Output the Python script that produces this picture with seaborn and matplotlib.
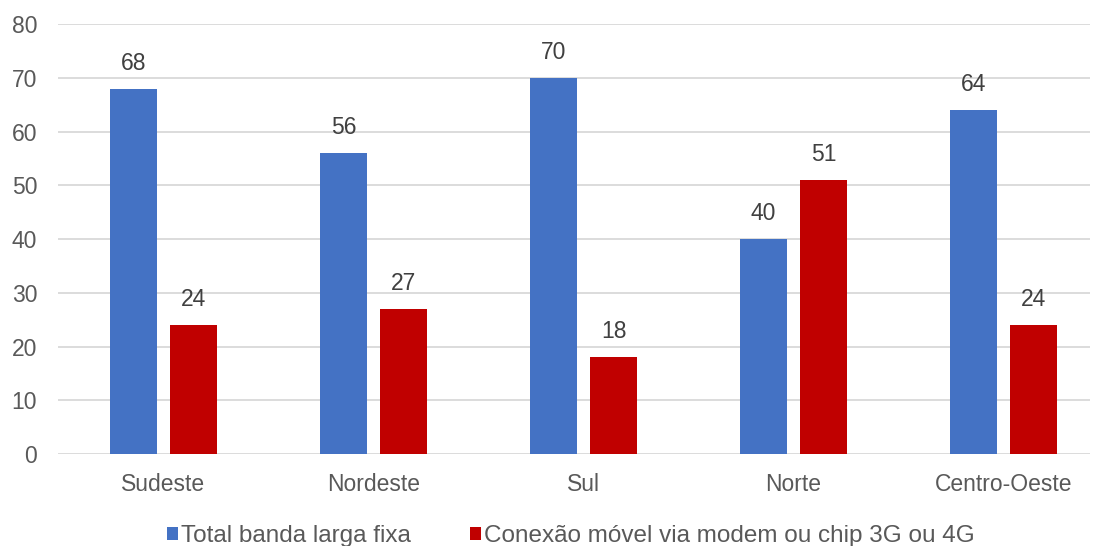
import matplotlib
matplotlib.use("Agg")
import matplotlib.pyplot as plt
import seaborn as sns
import pandas as pd

regioes = ["Sudeste", "Nordeste", "Sul", "Norte", "Centro-Oeste"]
banda_larga_fixa = [68, 56, 70, 40, 64]
movel_3g_4g = [24, 27, 18, 51, 24]
series = ["Total banda larga fixa", "Conexão móvel via modem ou chip 3G ou 4G"]
yticks = [0, 10, 20, 30, 40, 50, 60, 70, 80]

df = pd.DataFrame({
    "regiao": regioes * 2,
    "valor": banda_larga_fixa + movel_3g_4g,
    "serie": [series[0]] * len(regioes) + [series[1]] * len(regioes),
})

sns.set_theme(style="white")
plt.rcParams["font.family"] = ["Liberation Sans", "DejaVu Sans"]
text_color = "#595959"
label_color = "#404040"

fig = plt.figure(figsize=(10.98, 5.46), dpi=100)
ax = fig.add_axes([0.0528, 0.1685, 0.94, 0.7875])

sns.barplot(data=df, x="regiao", y="valor", hue="serie", order=regioes,
            hue_order=series, palette=["#4472C4", "#C00000"],
            width=0.572, gap=0.217, saturation=1, linewidth=0,
            ax=ax, legend=True)

for cont in ax.containers:
    ax.bar_label(cont, fmt="%d", padding=10, fontsize=16.5, color=label_color)

ax.set_ylim(0, 80)
ax.set_xlim(-0.502, 4.412)
ax.set_yticks(yticks)
ax.yaxis.grid(True, color="#d9d9d9", linewidth=1.3)
ax.set_axisbelow(True)
for s in ax.spines.values():
    s.set_visible(False)
ax.tick_params(axis="both", length=0, labelsize=16.5, labelcolor=text_color)
ax.tick_params(axis="x", pad=14)
ax.tick_params(axis="y", pad=15)
ax.set_xlabel("")
ax.set_ylabel("")

handles, labels = ax.get_legend_handles_labels()
ax.legend(handles, labels, loc="center", bbox_to_anchor=(0.497, -0.19),
          ncol=2, frameon=False, fontsize=17.5, handlelength=0.45, handleheight=0.45,
          handletextpad=0.15, columnspacing=2.4, labelcolor=text_color,
          borderaxespad=0, borderpad=0.1)

fig.savefig("out.png", dpi=100)
